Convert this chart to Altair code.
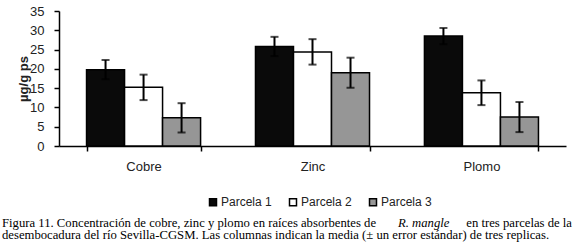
import altair as alt
import pandas as pd

metals = ["Cobre", "Zinc", "Plomo"]
parcelas = ["Parcela 1", "Parcela 2", "Parcela 3"]
means = {
    "Cobre": [19.8, 15.2, 7.3],
    "Zinc": [25.8, 24.4, 19.0],
    "Plomo": [28.5, 13.8, 7.5],
}
errors = {
    "Cobre": [2.5, 3.3, 3.8],
    "Zinc": [2.5, 3.3, 3.9],
    "Plomo": [2.1, 3.2, 3.9],
}
colors = ["#0a0a0a", "#ffffff", "#969696"]
y_ticks = [0, 5, 10, 15, 20, 25, 30, 35]
y_title = "µg/g ps"
cap1a = "Figura 11. Concentración de cobre, zinc y plomo en raíces absorbentes de"
cap1b = "R. mangle"
cap1c = "en tres parcelas de la"
cap2 = "desembocadura del río Sevilla-CGSM. Las columnas indican la media (± un error estándar) de tres replicas."

rows = []
for m in metals:
    for i, p in enumerate(parcelas):
        v = means[m][i]
        e = errors[m][i]
        rows.append({"metal": m, "parcela": p, "value": v, "lo": v - e, "hi": v + e})
df = pd.DataFrame(rows)

xaxis = alt.Axis(labelAngle=0, tickBand="extent", labelFontSize=13,
                 labelColor="#222", labelPadding=9, tickSize=5,
                 domainColor="black", tickColor="black",
                 domainWidth=1.5, tickWidth=1.5, labelFont="Liberation Sans")
xscale = alt.Scale(paddingInner=0.325, paddingOuter=0.163)
yaxis = alt.Axis(values=y_ticks, grid=False, labelOverlap=False, tickCount=8,
                 labelFontSize=13, labelColor="#222", labelPadding=10,
                 tickSize=5, domainColor="black", tickColor="black",
                 domainWidth=1.5, tickWidth=1.5, labelFont="Liberation Sans")
yscale = alt.Scale(domain=[0, 35], nice=False)


def xenc():
    return alt.X("metal:N", sort=metals, title=None, scale=xscale, axis=xaxis)


def yenc(field):
    return alt.Y(field, title=None, scale=yscale, axis=yaxis)


xoff = alt.XOffset("parcela:N", sort=parcelas, scale=alt.Scale(paddingInner=0, paddingOuter=0))

base = alt.Chart(df)

bars = base.mark_bar(stroke="black", strokeWidth=1.5).encode(
    x=xenc(),
    xOffset=xoff,
    y=yenc("value:Q"),
    fill=alt.Fill("parcela:N", sort=parcelas,
                  scale=alt.Scale(domain=parcelas, range=colors),
                  legend=alt.Legend(title=None, orient="none", direction="horizontal",
                                    legendX=148, legendY=185,
                                    symbolType="square", symbolSize=49,
                                    symbolStrokeColor="black", symbolStrokeWidth=1.5,
                                    labelFontSize=12, labelFont="Liberation Sans",
                                    labelColor="#222", labelOffset=2,
                                    columnPadding=14)),
)

rule = base.mark_rule(color="black", strokeWidth=2).encode(
    x=xenc(),
    xOffset=xoff,
    y=yenc("lo:Q"),
    y2="hi:Q",
)
cap_hi = base.mark_tick(color="black", thickness=2, size=8).encode(
    x=xenc(), xOffset=xoff, y=yenc("hi:Q"))
cap_lo = base.mark_tick(color="black", thickness=2, size=8).encode(
    x=xenc(), xOffset=xoff, y=yenc("lo:Q"))

ytitle = alt.Chart(pd.DataFrame({"t": [y_title]})).mark_text(
    font="Liberation Sans", fontSize=13, fontWeight="bold", color="#222",
    angle=270, align="center", baseline="middle",
).encode(text="t:N", x=alt.value(-35.5), y=alt.value(68))


def caption(text, x, y, align="left", italic=False):
    return alt.Chart(pd.DataFrame({"t": [text]})).mark_text(
        font="Liberation Serif", fontSize=12.7, color="black", align=align,
        baseline="alphabetic", fontStyle="italic" if italic else "normal",
    ).encode(text="t:N", x=alt.value(x), y=alt.value(y))


c1 = caption(cap1a, -57, 215.5)
c2 = caption(cap1b, 339, 215.5, italic=True)
c3 = caption(cap1c, 513, 215.5, align="right")
c4 = caption(cap2, -57, 228)

chart = alt.layer(bars, rule, cap_hi, cap_lo, ytitle, c1, c2, c3, c4).properties(
    width=507, height=135,
    autosize=alt.AutoSizeParams(type="none"),
    padding={"left": 59, "top": 11, "right": 10, "bottom": 103},
    background="white",
).configure_view(stroke=None).configure_axis(grid=False)

chart.save("out.html", embed_options={"renderer": "svg", "actions": False})
